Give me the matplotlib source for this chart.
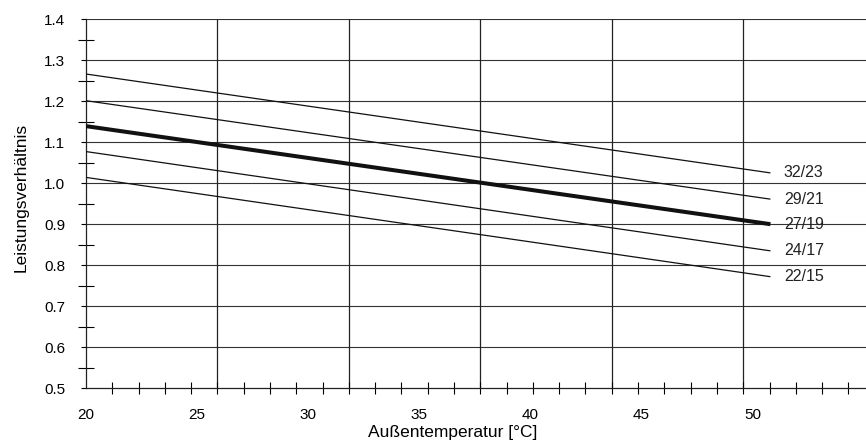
import numpy as np
import matplotlib.pyplot as plt

plt.rcParams['font.family'] = ['Liberation Sans', 'DejaVu Sans']

# Außentemperatur, Anfang und Ende der Kennlinien
t_range = [20.0, 50.8]

# Innenraum-Bedingungen (trocken/feucht) und Leistungsverhältnis bei 20 °C und am Ende
kurven = ["32/23", "29/21", "27/19", "24/17", "22/15"]
wert_start = [1.266, 1.201, 1.139, 1.077, 1.014]
wert_ende = [1.025, 0.961, 0.900, 0.835, 0.772]
linienbreite = [0.9, 0.9, 2.9, 0.9, 0.9]

x_ticks = [20, 25, 30, 35, 40, 45, 50]
y_ticks = np.round(np.arange(0.5, 1.41, 0.1), 1)

# Raster: senkrechte Linien im Abstand von 5,915 Einheiten
v_raster = [25.9, 31.82, 37.73, 43.65, 49.56]
x_minor = np.arange(20.0, 55.1, 5.915 / 5)

fig = plt.figure(figsize=(8.66, 4.43), dpi=100)
ax = fig.add_axes([0.0993, 0.1235, 0.9007, 0.8335])

for y in y_ticks[1:]:
    ax.axhline(y, color="#333333", lw=0.8, zorder=1)
for x in v_raster:
    ax.axvline(x, color="#222222", lw=0.9, zorder=1)

for name, y0, y1, lw in zip(kurven, wert_start, wert_ende, linienbreite):
    ax.plot(t_range, [y0, y1], color="#111111", lw=lw, solid_capstyle="butt", zorder=3)
    ax.text(t_range[1] + 0.6, y1, name, fontsize=11.5, va="center", ha="left",
            color="#222222", zorder=4)

ax.set_xlim(20.07, 55.1)
ax.set_ylim(0.5, 1.4)
ax.set_xticks(x_ticks)
ax.set_xticks(x_minor, minor=True)
ax.set_yticks(y_ticks)
ax.set_yticks(np.arange(0.55, 1.4, 0.1), minor=True)
ax.set_yticklabels([f"{v:.1f}" for v in y_ticks])

ax.tick_params(axis="x", which="major", length=0, pad=14.5, labelsize=11)
ax.tick_params(axis="x", which="minor", direction="inout", length=9, width=0.8)
ax.tick_params(axis="y", which="major", direction="out", length=3.6, width=0.8, pad=11.5, labelsize=11)
ax.tick_params(axis="y", which="minor", direction="inout", length=11, width=0.8)

for s in ["top", "right"]:
    ax.spines[s].set_visible(False)
for s in ["left", "bottom"]:
    ax.spines[s].set_color("#222222")
    ax.spines[s].set_linewidth(0.9)

ax.set_xlabel("Außentemperatur [°C]", fontsize=12.5)
ax.set_ylabel("Leistungsverhältnis", fontsize=12.5)
ax.xaxis.set_label_coords(0.4705, -0.0994)
ax.yaxis.set_label_coords(-0.074, 0.518)

fig.savefig("out.png", dpi=100)
